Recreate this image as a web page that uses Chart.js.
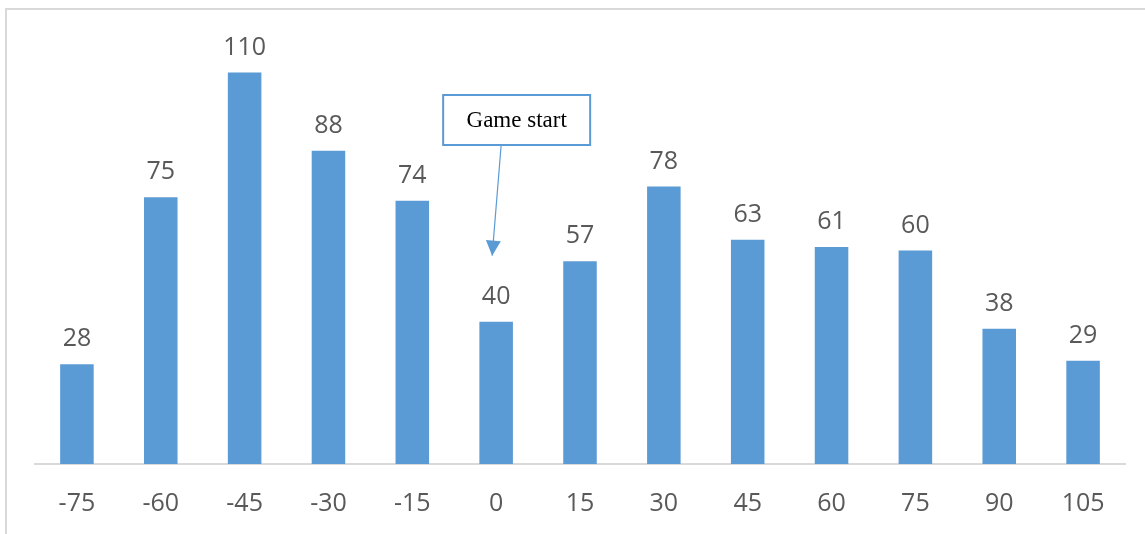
<!DOCTYPE html>
<html>
<head>
<meta charset="utf-8">
<script src="https://cdn.jsdelivr.net/npm/chart.js@4.4.1/dist/chart.umd.min.js"></script>
<style>
  html, body { margin: 0; padding: 0; background: #fff; }
  #wrap { position: relative; width: 1145px; height: 534px; }
  #frame {
    position: absolute; left: 5px; top: 8px; right: -4px; bottom: -4px;
    border: 2px solid #d9d9d9;
  }
  canvas { position: absolute; left: 0; top: 0; }
</style>
</head>
<body>
<div id="wrap">
  <div id="frame"></div>
  <canvas id="chart" width="1145" height="534"></canvas>
</div>
<script>
// minutes relative to kick-off
let minutes = ["-75", "-60", "-45", "-30", "-15", "0", "15", "30", "45", "60", "75", "90", "105"];
let counts = [28, 75, 110, 88, 74, 40, 57, 78, 63, 61, 60, 38, 29];
let noteText = "Game start";
let noteIndex = 5;

const barColor = "#5B9BD5";
const textColor = "#595959";

// value above each bar
const valueLabels = {
    id: "valueLabels",
    afterDatasetsDraw(chart) {
        const ctx = chart.ctx;
        const meta = chart.getDatasetMeta(0);
        ctx.save();
        ctx.font = "25px 'Open Sans'";
        ctx.fillStyle = textColor;
        ctx.textAlign = "center";
        ctx.textBaseline = "middle";
        meta.data.forEach((bar, i) => {
            ctx.fillText(counts[i], bar.x, bar.y - 25);
        });
        ctx.restore();
    }
};

// callout box with an arrow down to the kick-off bar
const callout = {
    id: "callout",
    afterDraw(chart) {
        const ctx = chart.ctx;
        const bar = chart.getDatasetMeta(0).data[noteIndex];
        const tipX = bar.x - 4;
        const tipY = bar.y - 66;
        const boxX = bar.x - 53, boxY = 95, boxW = 147, boxH = 50;
        ctx.save();
        ctx.fillStyle = "#fff";
        ctx.fillRect(boxX, boxY, boxW, boxH);
        ctx.strokeStyle = barColor;
        ctx.lineWidth = 2;
        ctx.strokeRect(boxX, boxY, boxW, boxH);
        ctx.font = "23px 'Liberation Serif'";
        ctx.fillStyle = "#000";
        ctx.textAlign = "center";
        ctx.textBaseline = "middle";
        ctx.fillText(noteText, boxX + boxW / 2, boxY + boxH / 2 + 1);

        // arrow shaft
        const startX = bar.x + 5, startY = boxY + boxH;
        ctx.lineWidth = 1.2;
        ctx.beginPath();
        ctx.moveTo(startX, startY);
        ctx.lineTo(tipX, tipY);
        ctx.stroke();
        // arrow head
        const ang = Math.atan2(tipY - startY, tipX - startX);
        const len = 15, half = 7.5;
        ctx.fillStyle = barColor;
        ctx.beginPath();
        ctx.moveTo(tipX, tipY);
        ctx.lineTo(tipX - len * Math.cos(ang) + half * Math.sin(ang), tipY - len * Math.sin(ang) - half * Math.cos(ang));
        ctx.lineTo(tipX - len * Math.cos(ang) - half * Math.sin(ang), tipY - len * Math.sin(ang) + half * Math.cos(ang));
        ctx.closePath();
        ctx.fill();
        ctx.restore();
    }
};

let ctx = document.getElementById("chart").getContext("2d");
let myChart = new Chart(ctx, {
    type: "bar",
    data: {
        labels: minutes,
        datasets: [{
            data: counts,
            backgroundColor: barColor,
            borderWidth: 0,
            barPercentage: 0.4,
            categoryPercentage: 1.0
        }]
    },
    options: {
        responsive: false,
        animation: false,
        layout: {
            padding: { top: 37, left: 35, right: 20, bottom: 20 }
        },
        scales: {
            y: {
                display: false,
                min: 0,
                max: 120
            },
            x: {
                grid: { display: false, drawTicks: false },
                border: { display: true, color: "#d9d9d9", width: 2 },
                ticks: {
                    color: textColor,
                    font: { family: "'Open Sans'", size: 25 },
                    padding: 25,
                    maxRotation: 0
                },
                afterFit(scale) {
                    scale.height = 50;
                }
            }
        },
        plugins: {
            legend: { display: false },
            tooltip: { enabled: false }
        }
    },
    plugins: [valueLabels, callout]
});
</script>
</body>
</html>
